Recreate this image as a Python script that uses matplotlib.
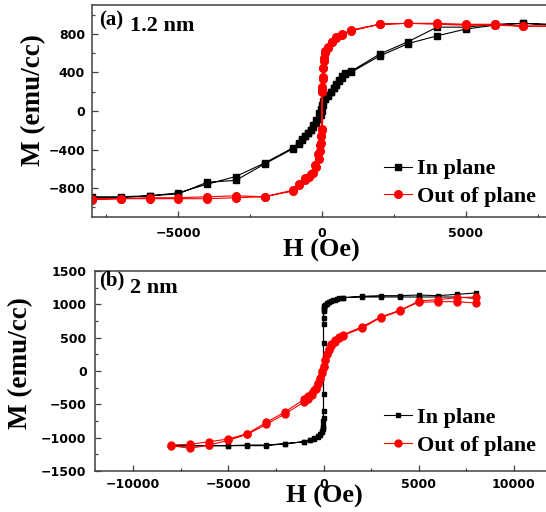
import numpy as np
import matplotlib
matplotlib.use("Agg")
from matplotlib import pyplot as plt
from matplotlib.ticker import MultipleLocator

# ---- panel (a) 1.2 nm ----
# in plane: field sweep down (+8000 -> -8000) then up (-8000 -> +8000)
Ha_in_dn = [8000, 7000, 6000, 5000, 4000, 3000, 2000, 1000, 800, 700, 600, 500, 400, 300, 200, 100, 50, 0,
            -50, -100, -200, -300, -400, -500, -600, -700, -800, -1000, -2000, -3000, -4000, -5000, -6000, -7000, -8000]
Ma_in_dn = [890, 910, 900, 870, 870, 720, 590, 410, 390, 360, 320, 280, 240, 200, 170, 130, 100, 60,
            20, -20, -90, -150, -200, -230, -260, -290, -330, -380, -540, -680, -760, -850, -880, -890, -890]
Ha_in_up = [-8000, -7000, -6000, -5000, -4000, -3000, -2000, -1000, -800, -700, -600, -500, -400, -300, -200, -100, -50, 0,
            50, 100, 200, 300, 400, 500, 600, 700, 800, 1000, 2000, 3000, 4000, 5000, 6000, 7000, 8000]
Ma_in_up = [-900, -900, -880, -860, -740, -720, -550, -390, -340, -300, -260, -230, -200, -170, -120, -80, -40, 0,
            60, 120, 160, 200, 240, 270, 310, 340, 380, 400, 570, 700, 780, 850, 890, 910, 900]

# out of plane
Ha_out_dn = [8000, 7000, 6000, 5000, 4000, 3000, 2000, 1000, 700, 500, 350, 200, 100, 60, 40, 20, 10, 0,
             0, -20, -50, -80, -120, -200, -300, -450, -600, -800, -1000, -2000, -3000, -4000, -5000, -6000, -7000, -8000]
Ma_out_dn = [880, 880, 900, 900, 910, 910, 900, 830, 790, 760, 720, 650, 600, 520, 450, 350, 250, 200,
             -190, -260, -330, -420, -500, -580, -640, -680, -720, -760, -820, -890, -900, -910, -910, -910, -910, -910]
Ha_out_up = [-8000, -7000, -6000, -5000, -4000, -3000, -2000, -1000, -800, -600, -400, -250, -150, -80, -40, 0,
             0, 20, 40, 70, 120, 200, 350, 500, 700, 1000, 2000, 3000, 4000, 5000, 6000, 7000, 8000]
Ma_out_up = [-920, -910, -900, -900, -890, -880, -890, -830, -770, -700, -650, -560, -450, -350, -260, -200,
             230, 330, 450, 550, 620, 660, 720, 770, 800, 840, 900, 910, 900, 890, 890, 880, 880]

# ---- panel (b) 2 nm ----
Hb_in_dn = [8000, 7000, 6000, 5000, 4000, 3000, 2000, 1000, 800, 600, 400, 300, 200, 100, 50, 20, 0, 0, 0,
            0, 0, -20, -50, -100, -200, -300, -500, -700, -1000, -2000, -3000, -4000, -5000, -6000, -7000, -8000]
Mb_in_dn = [1170, 1150, 1130, 1140, 1130, 1130, 1120, 1100, 1090, 1070, 1050, 1030, 1010, 990, 970, 940, 900, 700, 420,
            -350, -600, -750, -850, -900, -960, -990, -1020, -1040, -1060, -1090, -1110, -1110, -1120, -1120, -1120, -1120]
Hb_in_up = [-8000, -7000, -6000, -5000, -4000, -3000, -2000, -1000, -700, -500, -300, -200, -100, -50, -20, 0,
            0, 20, 50, 100, 200, 300, 500, 700, 1000, 2000, 3000, 4000, 5000, 6000, 7000, 8000]
Mb_in_up = [-1130, -1120, -1120, -1120, -1120, -1120, -1090, -1060, -1030, -1010, -980, -950, -910, -870, -820, -700,
            800, 920, 960, 990, 1020, 1040, 1060, 1080, 1100, 1110, 1110, 1110, 1110, 1110, 1110, 1090]

Hb_out_dn = [8000, 7000, 6000, 5000, 4000, 3000, 2000, 1000, 800, 600, 400, 300, 200, 100, 0,
             -100, -200, -300, -400, -500, -600, -800, -1000, -2000, -3000, -4000, -5000, -6000, -7000, -8000]
Mb_out_dn = [1020, 1040, 1040, 1030, 910, 810, 660, 540, 510, 470, 400, 330, 250, 170, 80,
             0, -100, -180, -250, -290, -330, -380, -420, -610, -770, -940, -1020, -1060, -1100, -1110]
Hb_out_up = [-8000, -7000, -6000, -5000, -4000, -3000, -2000, -1000, -800, -600, -400, -300, -200, -100, 0,
             100, 200, 300, 400, 600, 800, 1000, 2000, 3000, 4000, 5000, 6000, 7000, 8000]
Mb_out_up = [-1120, -1160, -1110, -1040, -950, -800, -640, -460, -420, -360, -270, -200, -120, -30, 60,
             160, 250, 320, 380, 440, 490, 530, 640, 800, 900, 1050, 1070, 1100, 1110]

serif = dict(family="Liberation Serif", weight="bold")

fig = plt.figure(figsize=(5.46, 5.12), dpi=100)
W, Hf = 546.0, 512.0

def style(ax, xmaj, xmin, ymaj, ymin, xpad, ypad):
    for s in ax.spines.values():
        s.set_color("#404040")
        s.set_linewidth(1.1)
    ax.xaxis.set_major_locator(MultipleLocator(xmaj))
    ax.xaxis.set_minor_locator(MultipleLocator(xmin))
    ax.yaxis.set_major_locator(MultipleLocator(ymaj))
    ax.yaxis.set_minor_locator(MultipleLocator(ymin))
    ax.tick_params(which="both", direction="in", color="#404040", width=0.9)
    ax.tick_params(which="major", length=4)
    ax.tick_params(which="minor", length=2)
    ax.tick_params(axis="x", pad=xpad)
    ax.tick_params(axis="y", pad=ypad)
    for lab in ax.get_xticklabels() + ax.get_yticklabels():
        lab.set_fontfamily("DejaVu Sans")
        lab.set_fontweight("bold")
        lab.set_fontsize(9)

def labels(ax, xpos, ypos):
    ax.set_xlabel("H (Oe)", fontsize=19, **serif)
    ax.set_ylabel("M (emu/cc)", fontsize=19.5, **serif)
    ax.xaxis.set_label_coords(*xpos)
    ax.yaxis.set_label_coords(*ypos)
    ax.xaxis.label.set_va("center")
    ax.yaxis.label.set_va("center")

def legend(ax, y_center):
    ax.legend(loc="center left", bbox_to_anchor=(384 / W, 1 - y_center / Hf), bbox_transform=fig.transFigure,
              frameon=False, prop=dict(size=16, **serif), handlelength=1.25, handletextpad=0.25,
              labelspacing=0.33, borderpad=0, borderaxespad=0)

# panel (a)
ax1 = fig.add_axes([92 / W, (Hf - 217) / Hf, 460 / W, 212 / Hf])
ax1.plot(Ha_in_dn + Ha_in_up, Ma_in_dn + Ma_in_up, "-s", color="black", lw=0.8, ms=5, label="In plane")
ax1.plot(Ha_out_dn + Ha_out_up, Ma_out_dn + Ma_out_up, "-o", color="red", lw=0.8, ms=5.5, label="Out of plane")
ax1.set_xlim(-8000, 8000)
ax1.set_ylim(-1100, 1100)
style(ax1, 5000, 2500, 400, 200, 7, 5)
labels(ax1, (0.498, -0.16), (-0.128, 0.552))
legend(ax1, 183)
fig.text(99 / W, 1 - 20 / Hf, "(a)", fontsize=15, va="center", **serif)
fig.text(130 / W, 1 - 26 / Hf, "1.2 nm", fontsize=16, va="center", **serif)

# panel (b)
ax2 = fig.add_axes([95 / W, (Hf - 471) / Hf, 457 / W, 200 / Hf])
ax2.plot(Hb_in_dn + Hb_in_up, Mb_in_dn + Mb_in_up, "-s", color="black", lw=0.8, ms=3.5, label="In plane")
ax2.plot(Hb_out_dn + Hb_out_up, Mb_out_dn + Mb_out_up, "-o", color="red", lw=0.8, ms=5, label="Out of plane")
ax2.set_xlim(-12000, 12000)
ax2.set_ylim(-1500, 1500)
style(ax2, 5000, 2500, 500, 250, 5, 6)
labels(ax2, (0.503, -0.125), (-0.162, 0.54))
legend(ax2, 431.5)
fig.text(99 / W, 1 - 280 / Hf, "(b)", fontsize=15, va="center", **serif)
fig.text(130 / W, 1 - 288 / Hf, "2 nm", fontsize=16, va="center", **serif)

fig.savefig("out.png", dpi=100)
